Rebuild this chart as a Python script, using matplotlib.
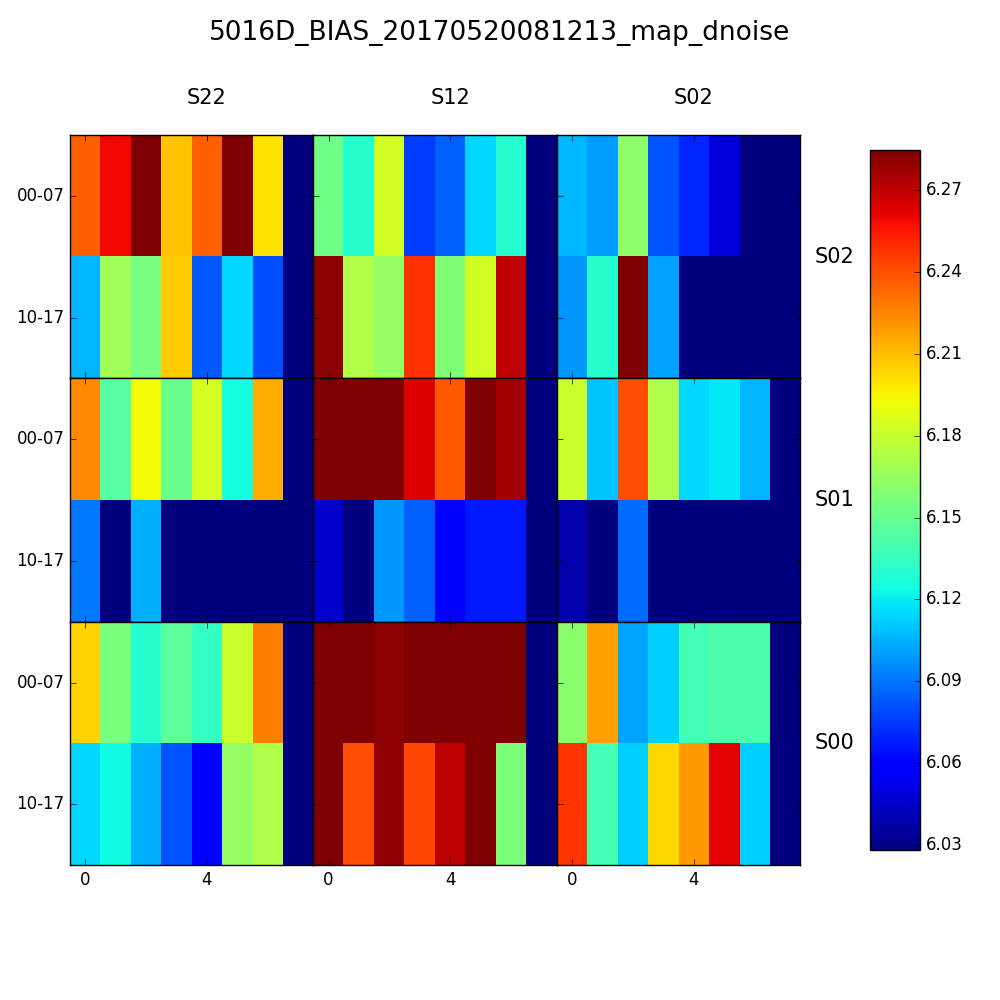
import numpy as np
import matplotlib
matplotlib.use('Agg')
import matplotlib.pyplot as plt

plt.style.use('classic')

title = '5016D_BIAS_20170520081213_map_dnoise'
col_names = ['S22', 'S12', 'S02']
row_names = ['S02', 'S01', 'S00']
amp_labels = ['00-07', '10-17']
x_ticks = [0, 4]
cbar_ticks = [6.03, 6.06, 6.09, 6.12, 6.15, 6.18, 6.21, 6.24, 6.27]
vmin, vmax = 6.0282, 6.2847

# one 2x8 block per CCD, rows = amplifier groups 00-07 / 10-17
s02_s22 = [[6.235, 6.259, 6.300, 6.208, 6.235, 6.300, 6.200, 6.000],
           [6.106, 6.168, 6.155, 6.206, 6.083, 6.115, 6.080, 6.000]]
s02_s12 = [[6.153, 6.130, 6.183, 6.076, 6.085, 6.115, 6.130, 6.000],
           [6.281, 6.173, 6.164, 6.248, 6.158, 6.183, 6.270, 6.000]]
s02_s02 = [[6.107, 6.100, 6.162, 6.082, 6.070, 6.049, 6.000, 6.000],
           [6.099, 6.130, 6.300, 6.101, 6.000, 6.000, 6.000, 6.000]]

s01_s22 = [[6.224, 6.145, 6.193, 6.151, 6.184, 6.125, 6.214, 6.000],
           [6.091, 6.000, 6.105, 6.000, 6.000, 6.000, 6.000, 6.000]]
s01_s12 = [[6.300, 6.300, 6.300, 6.263, 6.237, 6.300, 6.276, 6.000],
           [6.046, 6.000, 6.099, 6.085, 6.059, 6.067, 6.067, 6.000]]
s01_s02 = [[6.181, 6.110, 6.240, 6.172, 6.115, 6.119, 6.106, 6.000],
           [6.039, 6.000, 6.088, 6.000, 6.000, 6.000, 6.000, 6.000]]

s00_s22 = [[6.204, 6.156, 6.130, 6.147, 6.134, 6.181, 6.227, 6.000],
           [6.115, 6.124, 6.105, 6.082, 6.059, 6.164, 6.172, 6.000]]
s00_s12 = [[6.300, 6.300, 6.281, 6.300, 6.300, 6.300, 6.300, 6.000],
           [6.300, 6.240, 6.280, 6.242, 6.270, 6.300, 6.157, 6.000]]
s00_s02 = [[6.161, 6.218, 6.102, 6.113, 6.139, 6.142, 6.142, 6.000],
           [6.247, 6.139, 6.113, 6.203, 6.219, 6.262, 6.113, 6.000]]

blocks = [[s02_s22, s02_s12, s02_s02],
          [s01_s22, s01_s12, s01_s02],
          [s00_s22, s00_s12, s00_s02]]

fig = plt.figure(figsize=(10, 10), dpi=100, facecolor='white')

left, bottom, size = 0.07, 0.135, 0.73
w = size / 3
h = size / 3
for i in range(3):
    for j in range(3):
        ax = fig.add_axes([left + j * w, bottom + (2 - i) * h, w, h])
        im = ax.imshow(np.array(blocks[i][j]), cmap='jet', vmin=vmin, vmax=vmax,
                       interpolation='nearest', aspect='auto')
        ax.set_xticks(x_ticks)
        ax.set_yticks([0, 1])
        if i == 2:
            ax.set_xticklabels([str(t) for t in x_ticks])
        else:
            ax.set_xticklabels([])
        if j == 0:
            ax.set_yticklabels(amp_labels)
        else:
            ax.set_yticklabels([])
        ax.tick_params(labelsize=12)

# CCD names
for j, name in enumerate(col_names):
    fig.text(left + (j + 0.5) * w + 0.015, 0.902, name, ha='center', va='center', fontsize=15)
for i, name in enumerate(row_names):
    fig.text(0.815, bottom + (2 - i + 0.5) * h, name, ha='left', va='center', fontsize=15)

cax = fig.add_axes([0.87, 0.15, 0.05, 0.70])
cb = fig.colorbar(im, cax=cax, ticks=cbar_ticks, format='%.2f')
cb.ax.tick_params(labelsize=12)

fig.suptitle(title, fontsize=19, y=0.967, va='center')

fig.savefig('out.png', dpi=100, facecolor='white')
